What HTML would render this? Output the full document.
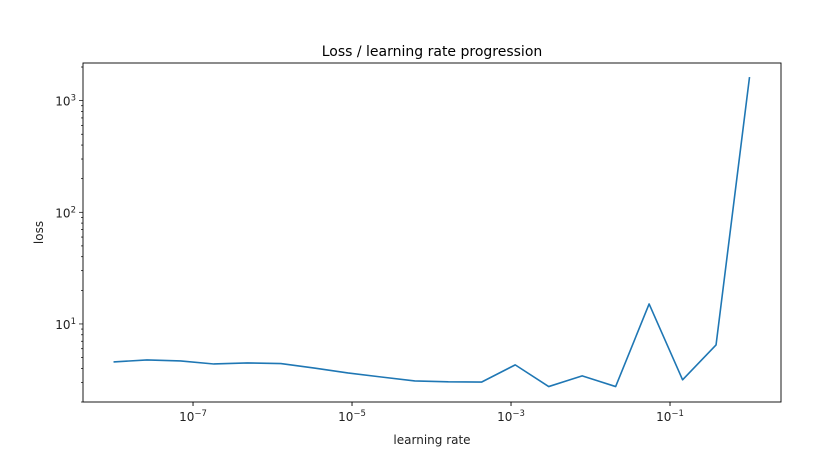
<!DOCTYPE html>
<html><head><meta charset="utf-8"><style>
body{margin:0;background:#fff;}
svg{display:block;font-family:"DejaVu Sans","Liberation Sans",sans-serif;}
</style></head><body>
<svg id="chart" width="825" height="461"></svg>
<script>
const lrExponents = [-8,-7.579,-7.158,-6.737,-6.316,-5.895,-5.474,-5.053,-4.632,-4.211,-3.789,-3.368,-2.947,-2.526,-2.105,-1.684,-1.263,-0.842,-0.421,0];
const losses = [4.57,4.76,4.66,4.38,4.48,4.42,4.03,3.64,3.35,3.09,3.03,3.02,4.30,2.75,3.43,2.75,15.1,3.16,6.49,1626];
const xTickExps = [-7,-5,-3,-1];
const yTickExps = [1,2,3];

const NS="http://www.w3.org/2000/svg";
const svg=document.getElementById('chart');
const L=83,R=781,T=63,B=402;
const xMin=-8.384,xMax=0.396,yMin=Math.log10(2.0),yMax=3.337;
const xs=e=>L+(e-xMin)/(xMax-xMin)*(R-L);
const ys=v=>B-(Math.log10(v)-yMin)/(yMax-yMin)*(B-T);
function mk(tag,attrs,parent){const el=document.createElementNS(NS,tag);for(const k in attrs)el.setAttribute(k,attrs[k]);(parent||svg).appendChild(el);return el;}

const title=mk('text',{x:(L+R)/2,y:56,'text-anchor':'middle','font-size':14,fill:'#000'});
title.textContent='Loss / learning rate progression';



const line=mk('polyline',{points:lrExponents.map((e,i)=>xs(e)+','+ys(losses[i])).join(' '),fill:'none',stroke:'#1f77b4','stroke-width':1.6,'stroke-linejoin':'round'});



const frame=mk('rect',{x:L,y:T,width:R-L,height:B-T,fill:'none',stroke:'#000','stroke-width':0.9});



xTickExps.forEach(e=>{
  const x=xs(e);
  const t=mk('line',{x1:x,x2:x,y1:B,y2:B+4,stroke:'#000','stroke-width':0.9});
  
  
  const lb=mk('text',{x:x,y:B+19,'text-anchor':'middle','font-size':12,fill:'#222'});
  
  
  lb.innerHTML='10<tspan dy="-5" font-size="8.5">\u2212'+(-e)+'</tspan>';
});
for(let d=0;d<=3;d++){
  for(let m=1;m<10;m++){
    const v=m*Math.pow(10,d);
    if(v<2||Math.log10(v)>yMax)continue;
    const y=ys(v);
    const t=mk('line',{x1:L-(m===1?4:2),x2:L,y1:y,y2:y,stroke:'#000','stroke-width':0.7});
    
    
  }
}
yTickExps.forEach(e=>{
  const y=ys(Math.pow(10,e));
  const lb=mk('text',{x:L-7,y:y+5,'text-anchor':'end','font-size':12,fill:'#222'});
  
  
  lb.innerHTML='10<tspan dy="-5" font-size="8.5">'+e+'</tspan>';
});
const xl=mk('text',{x:(L+R)/2,y:444,'text-anchor':'middle','font-size':12,fill:'#222'});
xl.textContent='learning rate';


const yl=mk('text',{x:0,y:0,'text-anchor':'middle','font-size':12,fill:'#222',transform:'translate(43,'+((T+B)/2)+') rotate(-90)'});
yl.textContent='loss';


</script>
</body></html>
